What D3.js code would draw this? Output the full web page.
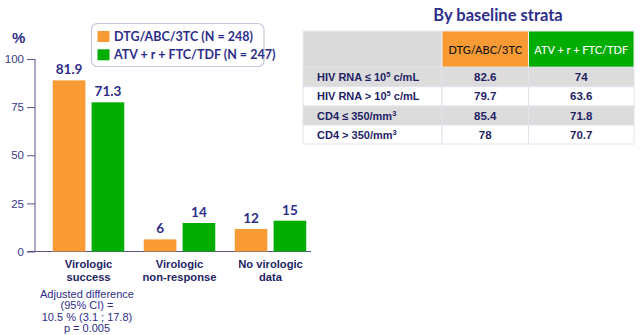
<!DOCTYPE html>
<html><head><meta charset="utf-8">
<script src="https://cdn.jsdelivr.net/npm/d3@7"></script>
<style>
html,body{margin:0;padding:0;background:#fff;}
svg{display:block;}
</style></head>
<body>
<script>
// ---- data ----
const categories = [["Virologic","success"],["Virologic","non-response"],["No virologic","data"]];
const seriesNames = ["DTG/ABC/3TC (N = 248)","ATV + r + FTC/TDF (N = 247)"];
const dtgLabels = ["81.9","6","12"];
const atvLabels = ["71.3","14","15"];
// bar heights as drawn in the picture (%)
const dtgBars = [88.9, 6.3, 11.7];
const atvBars = [77.5, 14.8, 16.0];
const yTicks = [0,25,50,75,100];
const noteLines = ["Adjusted difference","(95% CI) =","10.5 % (3.1 ; 17.8)","p = 0.005"];

const tableTitle = "By baseline strata";
const tableHeaders = ["DTG/ABC/3TC","ATV + r + FTC/TDF"];
const strataLabels = [["HIV RNA ≤ 10","5"," c/mL"],["HIV RNA > 10","5"," c/mL"],["CD4 ≤ 350/mm","3",""],["CD4 > 350/mm","3",""]];
const strataDTG = ["82.6","79.7","85.4","78"];
const strataATV = ["74","63.6","71.8","70.7"];

const orange = "#f99b35", green = "#00ad00", navy = "#2e2e8a", darkNavy = "#1f1f66";
const calibri = "Lato, 'Open Sans', sans-serif";
const arial = "'Liberation Sans', Arial, sans-serif";

const svg = d3.select("body").append("svg").attr("width",640).attr("height",335);

// ---- chart ----
const y = d3.scaleLinear().domain([0,100]).range([251.5,59]);
const x = d3.scaleBand().domain(d3.range(categories.length)).range([43,316]);
const sub = d3.scaleBand().domain([0,1]).range([0,71.5]).paddingInner(0.16).paddingOuter(0);
const off = (x.bandwidth()-71.5)/2;

const yAxis = d3.axisLeft(y).tickValues(yTicks).tickSize(8).tickPadding(3);
const gy = svg.append("g").attr("transform","translate(35,0)").call(yAxis);
gy.select(".domain").attr("stroke","#55558a").attr("d","M0,59V251.5");
gy.selectAll(".tick line").attr("stroke","#55558a");
gy.selectAll(".tick text").attr("fill","#3a3a8a").attr("font-family",arial).attr("font-size",11.5);

svg.append("line").attr("x1",27).attr("x2",311).attr("y1",y(0)).attr("y2",y(0)).attr("stroke","#55558a").attr("stroke-width",1.2);

svg.append("text").attr("x",12).attr("y",43).text("%").attr("fill",navy).attr("font-family",arial).attr("font-size",15).attr("font-weight","bold");

const series = [{bars:dtgBars,labels:dtgLabels,color:orange},{bars:atvBars,labels:atvLabels,color:green}];
series.forEach((s,si)=>{
  const g = svg.append("g");
  g.selectAll("rect").data(s.bars).join("rect")
    .attr("x",(d,i)=>x(i)+off+sub(si)).attr("width",sub.bandwidth())
    .attr("y",d=>y(d)).attr("height",d=>y(0)-y(d)).attr("fill",s.color);
  g.selectAll("text").data(s.bars).join("text")
    .attr("x",(d,i)=>x(i)+off+sub(si)+sub.bandwidth()/2).attr("y",d=>y(d)-6)
    .attr("text-anchor","middle").text((d,i)=>s.labels[i])
    .attr("fill",navy).attr("font-family",calibri).attr("font-weight","bold").attr("font-size",13.5);
});

const cat = svg.append("g");
categories.forEach((c,i)=>{
  c.forEach((line,j)=>{
    cat.append("text").attr("x",x(i)+x.bandwidth()/2).attr("y",268+j*13).attr("text-anchor","middle")
      .text(line).attr("fill",darkNavy).attr("font-family",arial).attr("font-weight","bold").attr("font-size",11.2);
  });
});
noteLines.forEach((t,j)=>{
  svg.append("text").attr("x",87).attr("y",298+j*11.3).attr("text-anchor","middle").text(t)
    .attr("fill",navy).attr("font-family",arial).attr("font-size",11);
});

// legend
const lg = svg.append("g");
lg.append("rect").attr("x",91.5).attr("y",23.5).attr("width",172.5).attr("height",43).attr("rx",6)
  .attr("fill","#fff").attr("stroke","#c8c8dc").attr("stroke-width",1.2);
[orange,green].forEach((c,i)=>{
  lg.append("rect").attr("x",97.5).attr("y",31+i*18.3).attr("width",12).attr("height",11).attr("fill",c);
  lg.append("text").attr("x",114).attr("y",40.5+i*18.3).text(seriesNames[i])
    .attr("fill",navy).attr("font-family",calibri).attr("font-weight","bold").attr("font-size",12.5);
});

// ---- table ----
svg.append("text").attr("x",498).attr("y",21).attr("text-anchor","middle").text(tableTitle)
  .attr("fill",navy).attr("font-family",calibri).attr("font-weight","bold").attr("font-size",16.5);

const colX = [303,442,528.5,634];
const rowY = [31,67.3,86.7,106,125,144];
const tg = svg.append("g");
// header
const headFill = ["#dadada",orange,green];
headFill.forEach((f,ci)=>{
  tg.append("rect").attr("x",colX[ci]).attr("y",rowY[0]).attr("width",colX[ci+1]-colX[ci]).attr("height",rowY[1]-rowY[0])
    .attr("fill",f).attr("stroke","#eeeeee").attr("stroke-width",1);
});
tableHeaders.forEach((h,i)=>{
  tg.append("text").attr("x",(colX[i+1]+colX[i+2])/2).attr("y",(rowY[0]+rowY[1])/2+4.5).attr("text-anchor","middle")
    .text(h).attr("fill",i===0?"#111":"#fff").attr("font-family",calibri).attr("font-size",11)
    .attr("font-weight",500);
});
strataLabels.forEach((lab,r)=>{
  const fill = r%2===0 ? "#dcdcdc" : "#ffffff";
  for(let ci=0;ci<3;ci++){
    tg.append("rect").attr("x",colX[ci]).attr("y",rowY[r+1]).attr("width",colX[ci+1]-colX[ci]).attr("height",rowY[r+2]-rowY[r+1])
      .attr("fill",fill).attr("stroke","#e2e2ee").attr("stroke-width",1);
  }
  const cy = (rowY[r+1]+rowY[r+2])/2+4;
  const t = tg.append("text").attr("x",317).attr("y",cy).attr("fill",darkNavy).attr("font-family",arial).attr("font-weight","bold").attr("font-size",11);
  t.append("tspan").text(lab[0]);
  t.append("tspan").text(lab[1]).attr("font-size",7.5).attr("dy",-4);
  t.append("tspan").text(lab[2]).attr("dy",4);
  [strataDTG[r],strataATV[r]].forEach((v,i)=>{
    tg.append("text").attr("x",(colX[i+1]+colX[i+2])/2).attr("y",cy).attr("text-anchor","middle").text(v)
      .attr("fill",darkNavy).attr("font-family",arial).attr("font-weight","bold").attr("font-size",11.5);
  });
});
</script>
</body></html>
